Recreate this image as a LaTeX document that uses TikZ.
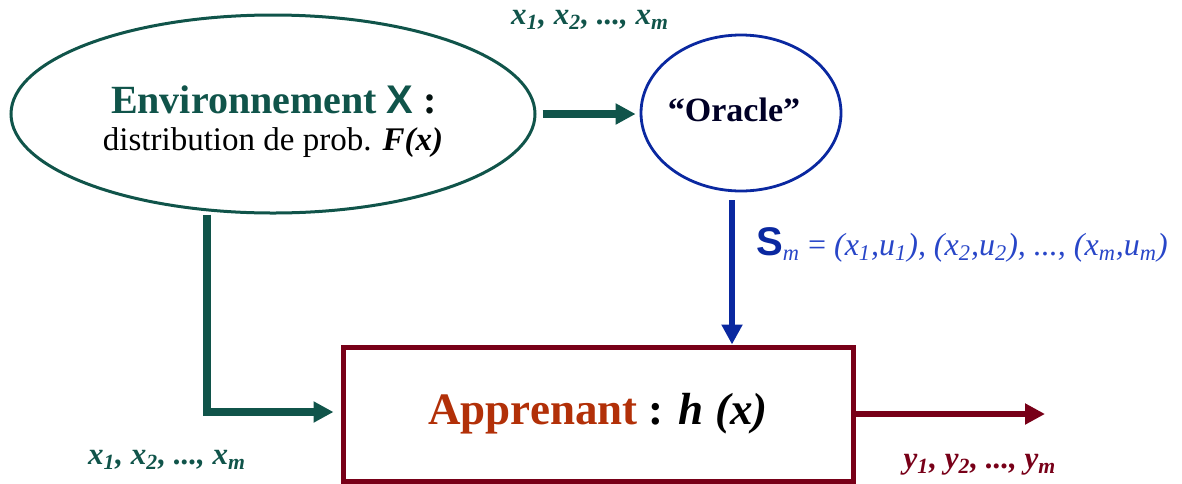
\documentclass[tikz,border=0pt]{standalone}
\usepackage{fontspec}
\setmainfont{Liberation Serif}
\newfontfamily\arialfont{Liberation Sans}
\usepackage{tikz}
\usetikzlibrary{arrows.meta, positioning, shapes.geometric}
\definecolor{envteal}{RGB}{16,84,74}
\definecolor{orablue}{RGB}{10,40,160}
\definecolor{labblue}{RGB}{40,70,200}
\definecolor{appred}{RGB}{120,0,24}
\definecolor{appbrown}{RGB}{178,48,8}
\newcommand{\ix}[2]{\textit{#1}\textsubscript{\textit{#2}}}

\begin{document}
\begin{tikzpicture}[x=0.5pt, y=-0.5pt, >=Triangle,
    flow/.style={->, line width=4pt, arrows={-Triangle[length=10pt, width=10pt]}},
    lab/.style={inner sep=0pt, font=\fontsize{15.5}{17}\selectfont\bfseries\itshape}]
    \useasboundingbox (0,0) rectangle (1182,483);

    % Environnement
    \node[ellipse, draw=envteal, line width=1.5pt, minimum width=262pt, minimum height=99pt] (env) at (273,114) {};
    \node[text=envteal, font=\fontsize{20}{22}\selectfont\bfseries] (envtitle) at (274,100) {Environnement {\arialfont X} \textcolor{black!80!envteal}{:}};
    \node[font=\fontsize{16.5}{18}\selectfont] (envdist) at (273,143) {distribution de prob. \textbf{\textit{F(x)}}};

    % Oracle
    \node[ellipse, draw=orablue, line width=1.4pt, minimum width=100pt, minimum height=78pt] (oracle) at (741,113) {};
    \node[font=\fontsize{17}{18}\selectfont\bfseries, text=black!85!blue] (oratext) at (734,110) {``Oracle''};
    \coordinate (sdrop) at (732,0);
    \path (oracle.south -| sdrop) coordinate (sstart);

    % Apprenant
    \node[draw=appred, line width=2.5pt, minimum width=255pt, minimum height=67pt,
          font=\fontsize{22.5}{25}\selectfont\bfseries] (app) at (598,414)
          {\textcolor{appbrown}{Apprenant} : {\itshape h (x)}};
    \coordinate (elbow) at (207,412);
    \coordinate (yend) at (1045,414);

    % Arrows
    \draw[flow, envteal, shorten <=3pt, shorten >=2pt] (env.east) -- (oracle.west |- env.east);
    \draw[flow, envteal, shorten >=3.5pt] (elbow |- env.south) -- (elbow) -- (elbow -| app.west);
    \draw[flow, orablue, line width=3pt, shorten <=4pt] (sstart) -- (app.north -| sdrop);
    \draw[flow, appred, line width=3pt] (app.east) -- (yend);

    % Labels
    \node[lab, text=envteal] (xtop) at (590,20) {\ix{x}{1}, \ix{x}{2}, ..., \ix{x}{m}};
    \node[lab, text=envteal] (xbot) at (167,460) {\ix{x}{1}, \ix{x}{2}, ..., \ix{x}{m}};
    \node[lab, text=appred] (ylab) at (980,465) {\ix{y}{1}, \ix{y}{2}, ..., \ix{y}{m}};
    \node[lab, text=labblue, font=\fontsize{16}{18}\selectfont\mdseries\itshape] (slab) at (962,245)
        {{\arialfont\upshape\bfseries\fontsize{20}{20}\selectfont\color{orablue}S}\textsubscript{\textit{m}} \textup{=} (\ix{x}{1},\ix{u}{1}), (\ix{x}{2},\ix{u}{2}), ..., (\ix{x}{m},\ix{u}{m})};
\end{tikzpicture}
\end{document}
